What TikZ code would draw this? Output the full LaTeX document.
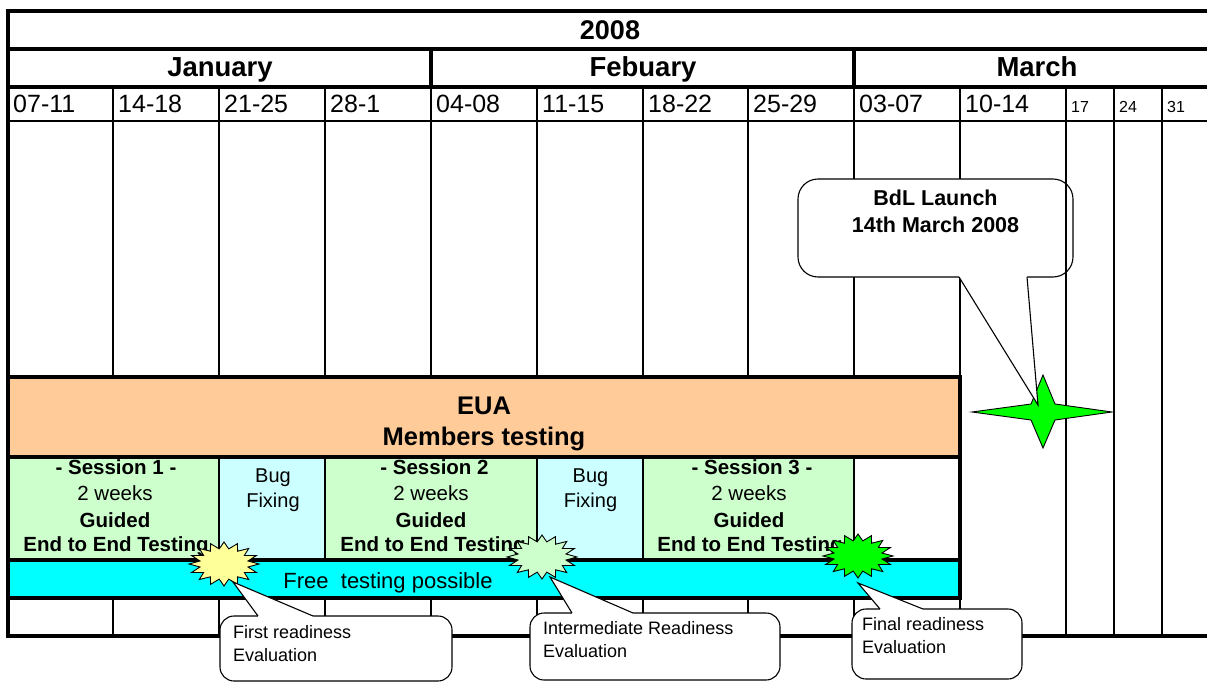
\documentclass[tikz,border=0pt]{standalone}
\usepackage{fontspec}
\setmainfont{Liberation Sans}
\definecolor{euaorange}{HTML}{FFCC99}
\definecolor{sessgreen}{HTML}{CCFFCC}
\definecolor{bugblue}{HTML}{CCFFFF}
\definecolor{freecyan}{HTML}{00FFFF}
\definecolor{burstyellow}{HTML}{FFFF99}
\definecolor{burstgreen}{HTML}{00FF00}
\newcommand\burstshape[5]{%
  \filldraw[fill=#5, draw=black, line width=0.9pt, line join=miter]
    plot[variable=\t, samples at={0,...,31}]
      ({#1+#3*(1-0.3*mod(\t,2))*cos(\t*11.25)}, {#2+#4*(1-0.3*mod(\t,2))*sin(\t*11.25)}) -- cycle;
}
\begin{document}
\begin{tikzpicture}[x=1pt,y=-1pt,
  frameline/.style={line width=3.2pt},
  gridline/.style={line width=1.8pt},
  cellline/.style={line width=2.6pt},
  thinrule/.style={line width=1.3pt},
  txt/.style={inner sep=0pt, anchor=base},
  yeartxt/.style={txt, font=\bfseries\fontsize{27}{32}\selectfont},
  monthtxt/.style={txt, font=\bfseries\fontsize{27.5}{33}\selectfont},
  wktxt/.style={inner sep=0pt, anchor=base west, font=\fontsize{25}{30}\selectfont},
  wksmall/.style={inner sep=0pt, anchor=base west, font=\fontsize{16}{19}\selectfont},
  euatxt/.style={txt, font=\bfseries\fontsize{25.5}{30}\selectfont},
  sessb/.style={txt, font=\bfseries\fontsize{20.5}{25}\selectfont},
  sessr/.style={txt, font=\fontsize{20.5}{25}\selectfont},
  bugtxt/.style={txt, font=\fontsize{20}{24}\selectfont},
  freetxt/.style={txt, font=\fontsize{22}{26}\selectfont},
  calltxt/.style={inner sep=0pt, anchor=base west, font=\fontsize{18}{22}\selectfont},
  bdltxt/.style={txt, font=\bfseries\fontsize{21.5}{26}\selectfont},
  calloutbody/.style={fill=white, draw=black, line width=1.1pt},
  wedgeline/.style={draw=black, line width=1.1pt, line join=miter}
]
\path[use as bounding box] (0,0) rectangle (1207,682);
\clip (0,0) rectangle (1207,682);
\fill[white] (0,0) rectangle (1207,682);

% week grid lines
\foreach \x in {113,219,325,431,537,643,748,854,960,1066,1114,1162}
  \draw[gridline] (\x,87) -- (\x,636);
% horizontal rules
\draw[thinrule] (8,121) -- (1215,121);
\draw[frameline] (8,11) -- (1215,11);
\draw[frameline] (8,49) -- (1215,49);
\draw[frameline] (8,87) -- (1215,87);
\draw[frameline] (6.4,636) -- (1215,636);
\draw[frameline] (431,49) -- (431,87);
\draw[frameline] (854,49) -- (854,87);

% session cells
\draw[cellline, fill=sessgreen] (8,457) rectangle (219,560);
\draw[cellline, fill=bugblue] (219,457) rectangle (325,560);
\draw[cellline, fill=sessgreen] (325,457) rectangle (537,560);
\draw[cellline, fill=bugblue] (537,457) rectangle (643,560);
\draw[cellline, fill=sessgreen] (643,457) rectangle (854,560);
\draw[cellline, fill=white] (854,457) rectangle (960,560);
% EUA and free testing bars
\draw[frameline, fill=euaorange] (8,377) rectangle (960,457);
\draw[frameline, fill=freecyan] (8,560) rectangle (960,598);
\draw[frameline] (960,375.4) -- (960,599.6);
\draw[frameline] (8,9.4) -- (8,637.6);

% header texts
\node[yeartxt] (year) at (610,40) {2008};
\node[monthtxt] (jan) at (220,77) {January};
\node[monthtxt] (feb) at (643,77) {Febuary};
\node[monthtxt] (mar) at (1037,77) {March};
\node[wktxt] (w1) at (13,113) {07-11};
\node[wktxt] (w2) at (118,113) {14-18};
\node[wktxt] (w3) at (224,113) {21-25};
\node[wktxt] (w4) at (330,113) {28-1};
\node[wktxt] (w5) at (436,113) {04-08};
\node[wktxt] (w6) at (542,113) {11-15};
\node[wktxt] (w7) at (648,113) {18-22};
\node[wktxt] (w8) at (753,113) {25-29};
\node[wktxt] (w9) at (859,113) {03-07};
\node[wktxt] (w10) at (965,113) {10-14};
\node[wksmall] (w11) at (1071,113) {17};
\node[wksmall] (w12) at (1119,113) {24};
\node[wksmall] (w13) at (1167,113) {31};

% EUA
\node[euatxt] (eua) at (484,414) {EUA};
\node[euatxt] (members) at (484,445) {Members testing};

% sessions
\node[sessb] (s1a) at (116,474) {- Session 1 -};
\node[sessr] (s1b) at (115,500.7) {2 weeks};
\node[sessb] (s1c) at (115,527) {Guided};
\node[sessb] (s1d) at (116,551.7) {End to End Testing};
\node[bugtxt] (b1a) at (273,482) {Bug};
\node[bugtxt] (b1b) at (273,507) {Fixing};
\node[sessb] (s2a) at (434.5,474) {- Session 2};
\node[sessr] (s2b) at (431,500.7) {2 weeks};
\node[sessb] (s2c) at (431,527) {Guided};
\node[sessb] (s2d) at (433,551.7) {End to End Testing};
\node[bugtxt] (b2a) at (590.5,482) {Bug};
\node[bugtxt] (b2b) at (590.5,507) {Fixing};
\node[sessb] (s3a) at (752,474) {- Session 3 -};
\node[sessr] (s3b) at (749,500.7) {2 weeks};
\node[sessb] (s3c) at (749,527) {Guided};
\node[sessb] (s3d) at (750,551.7) {End to End Testing};

\node[freetxt] (free) at (388,588) {Free\ \ testing possible};

% starbursts
\burstshape{224}{564}{35}{22}{burstyellow}
\burstshape{542}{557}{35}{22}{sessgreen}
\burstshape{858}{556}{35}{22}{burstgreen}

% four-point launch star
\filldraw[fill=burstgreen, draw=black, line width=0.9pt, line join=miter]
  (1043,375) -- (1055,404) -- (1112,412) -- (1055,420) -- (1043,448)
  -- (1031,420) -- (972,412) -- (1031,404) -- cycle;

% BdL callout
\coordinate (bdltip) at (1038,405);
\coordinate (bdlbl) at (959,277);
\coordinate (bdlbr) at (1027,277);
\filldraw[calloutbody, rounded corners=20pt] (798,179) rectangle (1073,277);
\fill[white] (bdlbl) -- (bdltip) -- (bdlbr) -- ++(0,-3) -- (959,274) -- cycle;
\draw[wedgeline] (bdlbl) -- (bdltip) -- (bdlbr);
\draw[gridline] (1066,179) -- (1066,277);
\node[bdltxt] (bdl1) at (935.5,205) {BdL Launch};
\node[bdltxt] (bdl2) at (935.5,232.5) {14th March 2008};

% first readiness callout
\coordinate (t1) at (233,582);
\coordinate (t1l) at (258,616);
\coordinate (t1r) at (313,616);
\filldraw[calloutbody, rounded corners=14pt] (220,616) rectangle (452,681);
\fill[white] (t1l) -- (t1) -- (t1r) -- ++(0,3) -- (258,619) -- cycle;
\draw[wedgeline] (t1l) -- (t1) -- (t1r);
\node[calltxt] (c1a) at (233,638) {First readiness};
\node[calltxt] (c1b) at (233,661) {Evaluation};

% intermediate readiness callout
\coordinate (t2) at (550,577);
\coordinate (t2l) at (572,613);
\coordinate (t2r) at (633,613);
\filldraw[calloutbody, rounded corners=14pt] (530,613) rectangle (780,680);
\fill[white] (t2l) -- (t2) -- (t2r) -- ++(0,3) -- (572,616) -- cycle;
\draw[wedgeline] (t2l) -- (t2) -- (t2r);
\node[calltxt] (c2a) at (543,634) {Intermediate Readiness};
\node[calltxt] (c2b) at (543,657) {Evaluation};

% final readiness callout
\coordinate (t3) at (858,583);
\coordinate (t3l) at (880,609);
\coordinate (t3r) at (923,609);
\filldraw[calloutbody, rounded corners=14pt] (852,609) rectangle (1022,679);
\fill[white] (t3l) -- (t3) -- (t3r) -- ++(0,3) -- (880,612) -- cycle;
\draw[wedgeline] (t3l) -- (t3) -- (t3r);
\node[calltxt] (c3a) at (862,630) {Final readiness};
\node[calltxt] (c3b) at (862,653) {Evaluation};
\end{tikzpicture}
\end{document}
